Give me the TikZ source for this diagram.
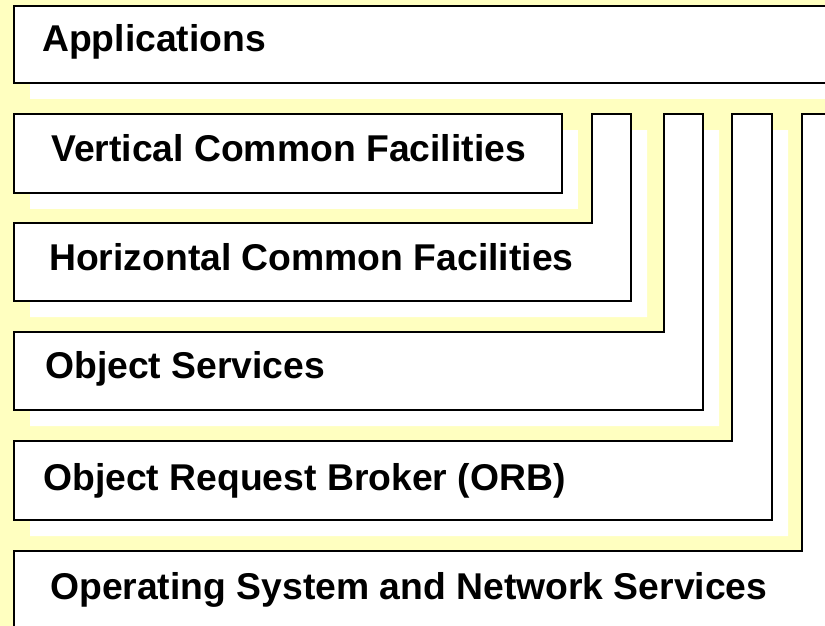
\documentclass[tikz,border=0pt]{standalone}
\usepackage{fontspec}
\setmainfont{Liberation Sans}
\usepackage{tikz}
\usepackage{xcolor}
\definecolor{paleyellow}{RGB}{255,255,192}
\newcommand{\layer}[1]{\fill [white, shift={(16,16)}] #1; \draw [layerbox] #1;}

\begin{document}
\begin{tikzpicture}[x=1pt, y=-1pt]

                \tikzset{% This is the style settings for the layers
                    layerbox/.style={fill=white, draw=black, line width=2pt, line join=miter},
                    layertext/.style={anchor=base west, inner sep=0pt,
                                        font=\fontsize{37.3}{44}\selectfont\bfseries}}

                    \fill [paleyellow] (0,0) rectangle (825,626);
                    \useasboundingbox (0,0) rectangle (825,626);
                    \clip (0,0) rectangle (825,626);

                    \layer{(14,6) rectangle (850,83)}
                    \layer{(14,114) rectangle (562,193)}
                    \layer{(14,223) -- (592,223) -- (592,114) -- (631,114) -- (631,301) -- (14,301) -- cycle}
                    \layer{(14,332) -- (664,332) -- (664,114) -- (703,114) -- (703,410) -- (14,410) -- cycle}
                    \layer{(14,441) -- (732,441) -- (732,114) -- (772,114) -- (772,520) -- (14,520) -- cycle}
                    \layer{(14,551) -- (802,551) -- (802,114) -- (850,114) -- (850,660) -- (14,660) -- cycle}

                    \node [layertext](apps) at (42,52) {Applications};
                    \node [layertext](vcf) at (51,161) {Vertical Common Facilities};
                    \node [layertext](hcf) at (49,270) {Horizontal Common Facilities};
                    \node [layertext](objserv) at (45,378) {Object Services};
                    \node [layertext](orb) at (43,490) {Object Request Broker (ORB)};
                    \node [layertext](osn) at (50,599) {Operating System and Network Services};

            \end{tikzpicture}
\end{document}
